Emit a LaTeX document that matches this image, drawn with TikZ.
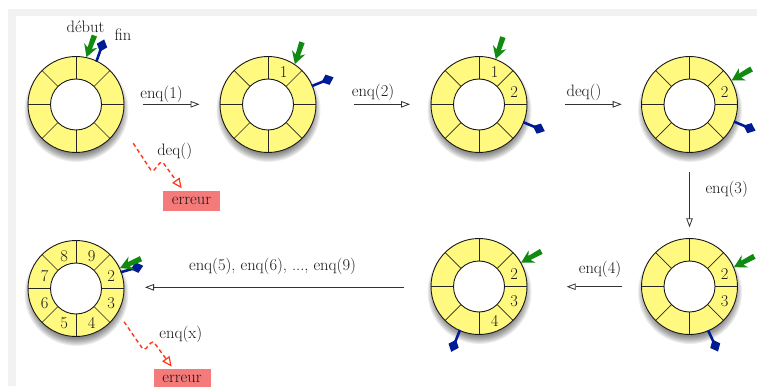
\documentclass[tikz,border=0pt]{standalone}
\usepackage{fontspec}
\usetikzlibrary{arrows.meta,calc}
\definecolor{ringyellow}{RGB}{255,249,128}
\definecolor{debutgreen}{RGB}{16,138,16}
\definecolor{finblue}{RGB}{0,28,148}
\definecolor{errred}{RGB}{255,55,25}
\definecolor{errbg}{RGB}{245,122,122}
\definecolor{framegray}{RGB}{242,242,242}
\definecolor{linegray}{RGB}{50,50,50}
\newcommand{\ringbody}[1]{%
  \begin{scope}[shift={(#1.center)}]
    \foreach \k in {0,...,7} \fill[black,opacity=0.07] (0.5,-5.5) circle ({52-\k*1.1});
    \fill[ringyellow] (0,0) circle (48);
    \foreach \a in {0,45,...,315} \draw[sector] (\a:25.5) -- (\a:48);
    \draw[ringline] (0,0) circle (48);
    \draw[ringline, fill=white] (0,0) circle (25.5);
  \end{scope}}
\newcommand{\ringdigits}[2]{%
  \begin{scope}[shift={(#1.center)}]
    \foreach \a/\t in {#2} \node[digit, xshift=2pt, yshift=-1pt] (#1d\t) at (\a:36) {\t};
  \end{scope}}
\newcommand{\debutptr}[3]{%
  \begin{scope}[shift={($(#1.center)+(#2:48.5)$)}, rotate=#3]
    \fill[debutgreen] (0,0) -- (-12.5,7) -- (-9.5,2.3) -- (-23,2.8) -- (-23,-2.8) -- (-9.5,-2.3) -- (-12.5,-7) -- cycle;
  \end{scope}}
\newcommand{\finptr}[3]{%
  \begin{scope}[shift={($(#1.center)+(#2:47.5)$)}, rotate=#3]
    \draw[finblue, line width=2.6pt] (0,0) -- (13,0);
    \fill[finblue] (10.5,0) -- (17,5.5) -- (23.5,0) -- (17,-5.5) -- cycle;
  \end{scope}}
\begin{document}
\begin{tikzpicture}[x=1pt,y=1pt,
  ringnode/.style={circle, minimum size=96pt, inner sep=0pt},
  sector/.style={draw=black!85, line width=0.7pt},
  ringline/.style={draw=black!90, line width=0.9pt},
  digit/.style={font=\fontsize{16.5}{18}\selectfont, text=black!90, inner sep=0pt},
  lbl/.style={font=\fontsize{16.5}{19}\selectfont, text=black!90, anchor=base, inner sep=0pt},
  flow/.style={draw=linegray, line width=0.8pt, -{Triangle[open, length=9pt, width=6.5pt, line width=0.8pt]}},
  errarrow/.style={draw=errred, line width=1.4pt, dash pattern=on 4pt off 3pt, rounded corners=3pt, -{Triangle[open, length=10pt, width=9pt, line width=1.2pt]}},
  errbox/.style={fill=errbg, minimum width=57pt, minimum height=20pt, inner sep=0pt, font=\fontsize{16.5}{19}\selectfont, text=black!90}
]
\useasboundingbox (0,0) rectangle (757,386);
\fill[white] (0,0) rectangle (757,386);
\fill[framegray] (8,0) rectangle (757,377);
\fill[white] (16,0) rectangle (757,370);

% rings
\node[ringnode] (r1) at (76,281.5) {};
\node[ringnode] (r2) at (268,281.5) {};
\node[ringnode] (r3) at (479,281.5) {};
\node[ringnode] (r4) at (689.5,281.5) {};
\node[ringnode] (r5) at (689.5,99.5) {};
\node[ringnode] (r6) at (479,99.5) {};
\node[ringnode] (r7) at (76,97.5) {};
\ringbody{r1}\ringbody{r2}\ringbody{r3}\ringbody{r4}
\ringbody{r5}\ringbody{r6}\ringbody{r7}
\ringdigits{r2}{67.5/1}
\ringdigits{r3}{67.5/1,22.5/2}
\ringdigits{r4}{22.5/2}
\ringdigits{r5}{22.5/2,-22.5/3}
\ringdigits{r6}{22.5/2,-22.5/3,-67.5/4}
\ringdigits{r7}{112.5/8,67.5/9,22.5/2,-22.5/3,-67.5/4,-112.5/5,-157.5/6,157.5/7}

% pointers
\finptr{r1}{64.6}{70.6}
\finptr{r2}{22.8}{22}
\finptr{r3}{-21.8}{-22.5}
\finptr{r4}{-21}{-23}
\finptr{r5}{-67}{-65}
\finptr{r6}{-113.6}{-112}
\finptr{r7}{20}{16}
\debutptr{r1}{77.5}{250}
\debutptr{r2}{56.4}{252}
\debutptr{r3}{69.8}{252}
\debutptr{r4}{29.7}{210}
\debutptr{r5}{23.5}{208}
\debutptr{r6}{29.6}{209}
\debutptr{r7}{24.9}{204}

\node[lbl] (ldebut) at (85.5,353.5) {début};
\node[lbl] (lfin) at (123,345) {fin};

% transitions
\coordinate (a1s) at (143,281.7);   \coordinate (a1e) at (199.5,281.7);
\coordinate (a2s) at (354,281.7);   \coordinate (a2e) at (410,281.7);
\coordinate (a3s) at (565,281.7);   \coordinate (a3e) at (621.7,281.7);
\coordinate (a4s) at (689.5,214);   \coordinate (a4e) at (689.5,158.7);
\coordinate (a5s) at (622.3,99.3);  \coordinate (a5e) at (566.7,99.3);
\coordinate (a6s) at (404,98.7);    \coordinate (a6e) at (145,98.7);
\draw[flow] (a1s) -- (a1e);
\draw[flow] (a2s) -- (a2e);
\draw[flow] (a3s) -- (a3e);
\draw[flow] (a4s) -- (a4e);
\draw[flow] (a5s) -- (a5e);
\draw[flow] (a6s) -- (a6e);
\node[lbl] (l1) at (161.5,287) {enq(1)};
\node[lbl] (l2) at (373,289) {enq(2)};
\node[lbl] (l3) at (584,289) {deq()};
\node[lbl] (l4) at (726.7,192.7) {enq(3)};
\node[lbl] (l5) at (600,113) {enq(4)};
\node[lbl] (l6) at (272.5,115.3) {enq(5), enq(6), ..., enq(9)};

% errors
\node[errbox] (e1) at (191.5,185) {erreur};
\node[errbox] (e2) at (182,6.8) {erreur};
\coordinate (s1) at (133.3,242.7); \coordinate (p1) at (152.3,213.7);
\coordinate (q1) at (161.7,225.3); \coordinate (t1) at (181.7,197.7);
\coordinate (s2) at (124,64.3);    \coordinate (p2) at (144,35.3);
\coordinate (q2) at (152.8,45.3);  \coordinate (t2) at (171.7,19.3);
\draw[errarrow] (s1) -- (p1) -- (q1) -- (t1);
\draw[errarrow] (s2) -- (p2) -- (q2) -- (t2);
\node[lbl] (l7) at (174.7,230) {deq()};
\node[lbl] (l8) at (180.8,47.7) {enq(x)};
\end{tikzpicture}
\end{document}
